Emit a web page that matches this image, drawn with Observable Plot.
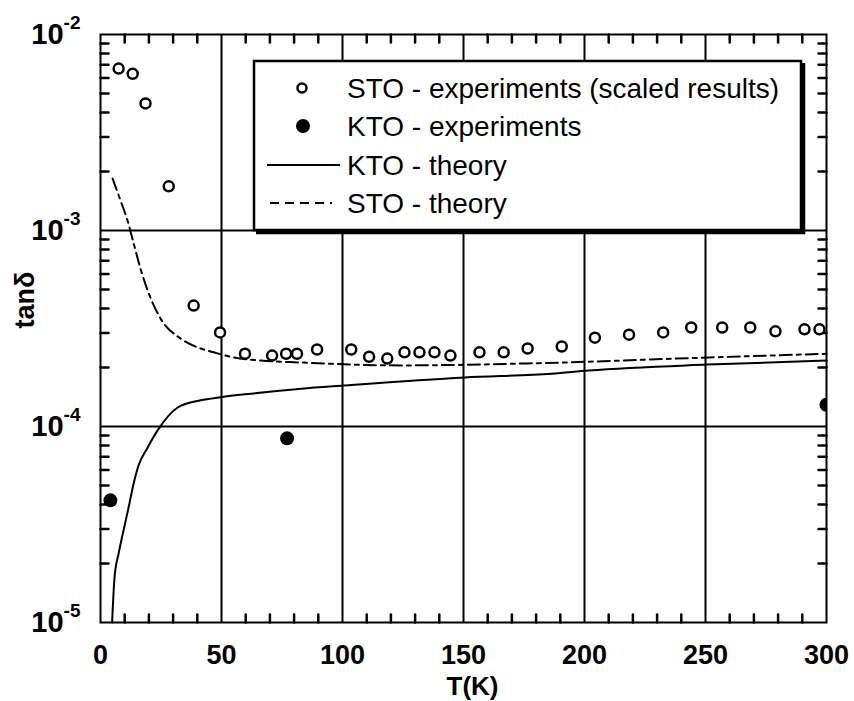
<!DOCTYPE html>
<html><head><meta charset="utf-8">
<script src="https://cdn.jsdelivr.net/npm/d3@7"></script>
<script src="https://cdn.jsdelivr.net/npm/@observablehq/plot@0.6"></script>
<style>body{margin:0;background:#fff} #chart{width:854px;height:701px}</style>
</head><body><div id="chart"></div>
<script>
// ---- data ----
const stoExpT = [7.5, 13.3, 18.6, 28.2, 38.5, 49.4, 59.7, 70.9, 76.7, 81.2, 89.5, 103.6, 111.0, 118.5, 125.6, 131.8, 138.0, 144.6, 156.6, 166.6, 176.5, 190.6, 204.3, 218.4, 232.5, 244.1, 256.9, 268.5, 278.9, 290.9, 297.1];
const stoExpV = [6.7e-3, 6.3e-3, 4.45e-3, 1.68e-3, 4.14e-4, 3.02e-4, 2.35e-4, 2.30e-4, 2.35e-4, 2.35e-4, 2.47e-4, 2.47e-4, 2.27e-4, 2.22e-4, 2.39e-4, 2.39e-4, 2.39e-4, 2.30e-4, 2.39e-4, 2.39e-4, 2.50e-4, 2.56e-4, 2.84e-4, 2.94e-4, 3.02e-4, 3.20e-4, 3.20e-4, 3.20e-4, 3.06e-4, 3.13e-4, 3.13e-4];
const ktoExpT = [4.1, 77.1, 300];
const ktoExpV = [4.2e-5, 8.7e-5, 1.29e-4];
const ktoTheoryT = [4.8, 5.8, 7.5, 9.5, 11.6, 13.7, 15.7, 19.5, 23.6, 31.9, 41.4, 49.7, 62.2, 82.9, 100.7, 150.4, 186.5, 201.8, 250.7, 300];
const ktoTheoryV = [1.0e-5, 1.70e-5, 2.25e-5, 2.94e-5, 3.86e-5, 5.12e-5, 6.32e-5, 7.82e-5, 9.55e-5, 1.25e-4, 1.36e-4, 1.41e-4, 1.47e-4, 1.56e-4, 1.62e-4, 1.78e-4, 1.86e-4, 1.93e-4, 2.07e-4, 2.17e-4];
const stoTheoryT = [5.0, 8.3, 11.2, 13.6, 16.5, 19.8, 24.8, 33.1, 41.4, 46.8, 55.1, 66.3, 82.9, 124.3, 178.2, 251.5, 300];
const stoTheoryV = [1.84e-3, 1.42e-3, 1.12e-3, 8.7e-4, 6.4e-4, 4.83e-4, 3.56e-4, 2.81e-4, 2.50e-4, 2.39e-4, 2.25e-4, 2.17e-4, 2.12e-4, 2.05e-4, 2.10e-4, 2.25e-4, 2.35e-4];

const xTicks = [0, 50, 100, 150, 200, 250, 300];
const xGrid = [50, 100, 150, 200, 250];
const xMinor = [10,20,30,40, 60,70,80,90, 110,120,130,140, 160,170,180,190, 210,220,230,240, 260,270,280,290];
const yTicks = [1e-5, 1e-4, 1e-3, 1e-2];
const yGrid = [1e-4, 1e-3];
const yMinor = [2e-5,3e-5,4e-5,5e-5,6e-5,7e-5,8e-5,9e-5, 2e-4,3e-4,4e-4,5e-4,6e-4,7e-4,8e-4,9e-4, 2e-3,3e-3,4e-3,5e-3,6e-3,7e-3,8e-3,9e-3];
const legendLabels = ["STO - experiments (scaled results)", "KTO - experiments", "KTO - theory", "STO - theory"];
const xLabel = "T(K)";
const yLabel = "tanδ";

// ---- layout ----
const W = 854, H = 701, mT = 34, mR = 28, mB = 79, mL = 100;
const FONT = '"Liberation Sans", Arial, Helvetica, sans-serif';

const zip = (T, V) => T.map((t, i) => ({T: t, v: V[i]}));
const stoExp = zip(stoExpT, stoExpV);
const ktoExp = zip(ktoExpT, ktoExpV);
const ktoTheory = zip(ktoTheoryT, ktoTheoryV);
const stoTheory = zip(stoTheoryT, stoTheoryV);

// inward minor tick shape (a plain stroke along the vector)
const tickShape = {draw(context, l) { context.moveTo(0, 0); context.lineTo(0, -l); }};
const minor = (data, ch, frameAnchor, rotate) => Plot.vector(data, {
  [ch]: d => d, frameAnchor, rotate, length: 8, anchor: "start", shape: tickShape,
  stroke: "black", strokeWidth: 2.5
});

const chart = Plot.plot({
  width: W, height: H,
  marginTop: mT, marginRight: mR, marginBottom: mB, marginLeft: mL,
  style: {fontFamily: FONT, background: "white", color: "black"},
  x: {domain: [0, 300]},
  y: {type: "log", domain: [1e-5, 1e-2]},
  marks: [
    Plot.ruleX(xGrid, {stroke: "black", strokeWidth: 2}),
    Plot.ruleY(yGrid, {stroke: "black", strokeWidth: 2}),
    minor(xMinor, "x", "bottom", 0),
    minor(xMinor, "x", "top", 180),
    minor(yMinor, "y", "left", 90),
    minor(yMinor, "y", "right", -90),
    Plot.line(stoTheory, {x: "T", y: "v", stroke: "black", strokeWidth: 2, strokeDasharray: "12,5,4,5", curve: "monotone-x"}),
    Plot.line(ktoTheory, {x: "T", y: "v", stroke: "black", strokeWidth: 2, curve: "monotone-x"}),
    Plot.dot(stoExp, {x: "T", y: "v", r: 5, stroke: "black", strokeWidth: 2.5, fill: "white"}),
    Plot.dot(ktoExp, {x: "T", y: "v", r: 7, fill: "black", stroke: "none", clip: true}),
    Plot.frame({stroke: "black", strokeWidth: 2}),
    Plot.axisX(xTicks, {tickSize: 0, tickPadding: 22, fontSize: 27, fontWeight: "bold", label: null}),
    Plot.axisY(yTicks, {tickSize: 0, tickPadding: 20, fontSize: 29, fontWeight: "bold", label: null,
      tickFormat: d => "10|" + Math.round(Math.log10(d))}),
    Plot.text([xLabel], {frameAnchor: "bottom", dy: 64, dx: 9, fontSize: 26, fontWeight: "bold", lineAnchor: "middle"}),
    Plot.text([yLabel], {frameAnchor: "left", dx: -75, rotate: -90, fontSize: 27, fontWeight: "bold", lineAnchor: "middle"})
  ]
});

// superscript exponents on y tick labels
d3.select(chart).selectAll("text").each(function() {
  const m = /^10\|(-?\d+)$/.exec(this.textContent);
  if (m) {
    this.textContent = "10";
    d3.select(this).append("tspan").attr("dy", -15).attr("font-size", 19).text(m[1]);
  }
});

// legend box
const svg = d3.select(chart);
const lg = svg.append("g").attr("font-family", FONT).attr("text-anchor", "start");
lg.append("rect").attr("x", 254).attr("y", 61).attr("width", 547).attr("height", 169)
  .attr("fill", "white").attr("stroke", "black").attr("stroke-width", 2.5);
lg.append("path").attr("d", "M803,63V232H256").attr("fill", "none").attr("stroke", "black").attr("stroke-width", 4.5);
const rowY = [88, 126, 165, 203];
lg.selectAll("text.lab").data(legendLabels).join("text")
  .attr("x", 347).attr("y", (d, i) => rowY[i]).attr("dy", "0.36em")
  .attr("text-anchor", "start").attr("font-weight", "normal")
  .attr("font-size", 28).attr("fill", "black").text(d => d);
lg.append("circle").attr("cx", 302).attr("cy", rowY[0]).attr("r", 4.5)
  .attr("fill", "white").attr("stroke", "black").attr("stroke-width", 2.5);
lg.append("circle").attr("cx", 303).attr("cy", rowY[1]).attr("r", 7).attr("fill", "black");
lg.append("line").attr("x1", 267).attr("x2", 340).attr("y1", rowY[2]).attr("y2", rowY[2])
  .attr("stroke", "black").attr("stroke-width", 2);
lg.append("line").attr("x1", 270).attr("x2", 332).attr("y1", rowY[3]).attr("y2", rowY[3])
  .attr("stroke", "black").attr("stroke-width", 2).attr("stroke-dasharray", "9,6");

document.getElementById("chart").append(chart);
</script>
</body></html>
